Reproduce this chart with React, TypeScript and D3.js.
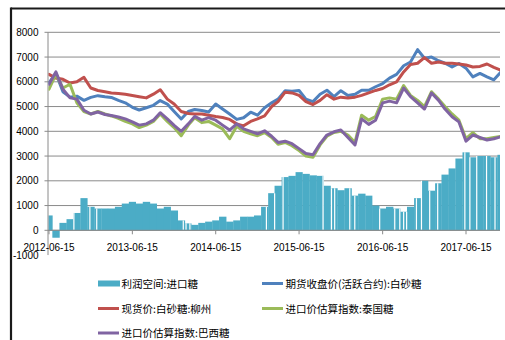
import React from 'react';
import * as d3 from 'd3';

const START = '2012-06-15';
const tickLabels = ['2012-06-15', '2013-06-15', '2014-06-15', '2015-06-15', '2016-06-15', '2017-06-15'];
const yTicks = [-1000, 0, 1000, 2000, 3000, 4000, 5000, 6000, 7000, 8000];
const gridTicks = [0, 1000, 2000, 3000, 4000, 5000, 6000, 7000, 8000];

// 利润空间:进口糖 (monthly)
const profit = [
  600, -300, 300, 450, 700, 1300, 950, 880, 880, 880,
  950, 1080, 1150, 1080, 1150, 1080, 880, 950, 800, 400,
  280, 220, 300, 350, 400, 550, 350, 400, 550, 550,
  600, 950, 1500, 1800, 2150, 2200, 2350, 2280, 2220, 2200,
  1800, 1700, 1620, 1700, 1400, 1480, 1400, 1000, 880, 950,
  880, 750, 950, 1300, 2000, 1600, 1900, 2250, 2500, 2900,
  3150, 2950, 3000, 3000, 2950, 3050,
];
// dates with no profit data (white gaps in the bars)
const gapDates = [
  '2012-10-02', '2012-12-11', '2013-01-10', '2014-01-24', '2014-02-05', '2014-02-22',
  '2015-01-23', '2015-02-28', '2015-04-06', '2015-09-28', '2015-11-04', '2015-11-18',
  '2016-01-23', '2016-02-14', '2016-06-02', '2016-08-07', '2016-08-29', '2016-09-15',
  '2016-09-28', '2016-11-10', '2016-12-02', '2017-01-07', '2017-02-11', '2017-06-10',
  '2017-07-02', '2017-08-01', '2017-09-13', '2017-10-20',
];
// 期货收盘价(活跃合约):白砂糖
const futures = [
  5950, 6350, 5600, 5380, 5420, 5250, 5370, 5440, 5400, 5370,
  5250, 5150, 4970, 4860, 4950, 5050, 5240, 5100, 4800, 4500,
  4800, 4880, 4840, 4780, 5100, 4900, 4700, 4480, 4550, 4770,
  4650, 4950, 5150, 5300, 5640, 5620, 5650, 5300, 5200, 5500,
  5660, 5400, 5640, 5450, 5500, 5660, 5660, 5800, 5930, 6150,
  6300, 6650, 6800, 7300, 6950, 7000, 6850, 6750, 6600, 6740,
  6550, 6200, 6340, 6200, 6080, 6400,
];
// 现货价:白砂糖:柳州
const spot = [
  6300, 6150, 6100, 5950, 6000, 6180, 5750, 5650, 5600, 5550,
  5530, 5500, 5450, 5400, 5350, 5500, 5680, 5300, 5100, 4800,
  4720, 4700, 4700, 4650, 4600, 4560, 4480, 4300, 4220, 4400,
  4500, 4620, 5000, 5200, 5580, 5550, 5450, 5200, 5080, 5250,
  5480, 5300, 5380, 5350, 5380, 5450, 5550, 5650, 5730, 5880,
  6000, 6400, 6700, 6750, 6980, 6750, 6800, 6750, 6750, 6720,
  6680, 6600, 6620, 6720, 6580, 6470,
];
// 进口价估算指数:泰国糖
const thai = [
  5700, 6300, 5750, 5900, 5150, 4800, 4700, 4800, 4700, 4620,
  4520, 4400, 4300, 4150, 4250, 4400, 4700, 4400, 4150, 3820,
  4250, 4550, 4350, 4400, 4250, 4100, 3700, 4200, 4000, 3900,
  3820, 3950, 3750, 3480, 3550, 3420, 3220, 3000, 2950, 3450,
  3800, 3950, 4000, 3850, 3550, 4650, 4450, 4600, 5300, 5350,
  5300, 5850, 5450, 5250, 5000, 5600, 5300, 5000, 4700, 4450,
  3700, 3950, 3700, 3700, 3750, 3800,
];
// 进口价估算指数:巴西糖
const brazil = [
  5900, 6400, 5700, 5350, 5300, 4850, 4700, 4780, 4680, 4640,
  4580, 4500, 4380, 4250, 4300, 4450, 4750, 4500, 4240, 4000,
  4300, 4600, 4450, 4550, 4450, 4250, 4050, 4300, 4100, 4000,
  3900, 4020, 3800, 3550, 3600, 3500, 3300, 3100, 3050, 3500,
  3850, 3980, 4050, 3750, 3450, 4500, 4280, 4450, 5150, 5220,
  5150, 5750, 5400, 5150, 4900, 5550, 5250, 4900, 4590, 4380,
  3600, 3850, 3750, 3650, 3700, 3780,
];

const C_BAR = '#4BACC6';
const C_BLUE = '#4F81BD';
const C_RED = '#C0504D';
const C_GREEN = '#9BBB59';
const C_PURPLE = '#8064A2';

const parse = d3.timeParse('%Y-%m-%d');
const months = d3.range(profit.length).map((i) => d3.timeMonth.offset(parse(START) as Date, i));

export default function App() {
  const W = 505;
  const H = 340;
  const left = 48;
  const right = 500;
  const x = d3.scaleTime().domain([parse('2012-06-15') as Date, parse('2017-06-15') as Date]).range([49, 466]);
  const y = d3.scaleLinear().domain([-1000, 8000]).range([255.05, 32.3]);

  const line = d3
    .line<number>()
    .x((_, i) => x(months[i]))
    .y((d) => y(d));

  const series = [
    { data: futures, color: C_BLUE },
    { data: spot, color: C_RED },
    { data: thai, color: C_GREEN },
    { data: brazil, color: C_PURPLE },
  ];

  const legend = [
    { label: '利润空间:进口糖', color: C_BAR, bar: true, col: 0, row: 0 },
    { label: '期货收盘价(活跃合约):白砂糖', color: C_BLUE, bar: false, col: 1, row: 0 },
    { label: '现货价:白砂糖:柳州', color: C_RED, bar: false, col: 0, row: 1 },
    { label: '进口价估算指数:泰国糖', color: C_GREEN, bar: false, col: 1, row: 1 },
    { label: '进口价估算指数:巴西糖', color: C_PURPLE, bar: false, col: 0, row: 2 },
  ];
  const colX = [98, 262];
  const rowY = [283.5, 308.5, 333];
  const monthIndex = d3.scaleTime().domain([months[0], months[months.length - 1]]).range([0, months.length - 1]);

  return (
    <svg
      width={W}
      height={H}
      style={{ position: 'absolute', left: 0, top: 0, background: '#fff' }}
      xmlns="http://www.w3.org/2000/svg"
    >
      <defs>
        <clipPath id="plot">
          <rect x={left + 0.5} y={20} width={right - left - 0.5} height={250} />
        </clipPath>
      </defs>
      <rect x={0} y={0} width={W} height={H} fill="#fff" />
      {/* frame */}
      <line x1={11} y1={8.5} x2={W} y2={8.5} stroke="#1a1a1a" strokeWidth={2.2} />
      <line x1={11} y1={7.4} x2={11} y2={H} stroke="#1a1a1a" strokeWidth={2.2} />

      {/* gridlines */}
      {gridTicks.map((t) => (
        <line key={t} x1={44.5} x2={right} y1={y(t)} y2={y(t)} stroke="#8a8a8a" strokeWidth={1} />
      ))}

      {/* bars */}
      <g clipPath="url(#plot)">
        {profit.map((v, i) => {
          const x0 = x(months[i]) - 3.5;
          const x1 = x(d3.timeMonth.offset(months[i], 1)) - 3.5;
          return (
            <rect
              key={i}
              x={x0}
              width={x1 - x0 + 0.3}
              y={Math.min(y(v), y(0))}
              height={Math.abs(y(v) - y(0))}
              fill={C_BAR}
            />
          );
        })}
        {gapDates.map((g) => {
          const dt = parse(g) as Date;
          const idx = Math.max(0, Math.min(profit.length - 1, Math.round(monthIndex(dt))));
          const v = profit[idx];
          return (
            <line
              key={g}
              x1={x(dt)}
              x2={x(dt)}
              y1={y(0) - 0.5}
              y2={y(v)}
              stroke="#fff"
              strokeWidth={1.2}
            />
          );
        })}
      </g>

      {/* axes */}
      <line x1={left} x2={left} y1={y(8000)} y2={y(-1000)} stroke="#8a8a8a" strokeWidth={1} />
      <line x1={left} x2={right} y1={y(0)} y2={y(0)} stroke="#8a8a8a" strokeWidth={1} />
      {tickLabels.map((t) => {
        const xx = x(parse(t) as Date);
        return (
          <g key={t}>
            <line x1={xx} x2={xx} y1={y(0)} y2={y(0) + 4} stroke="#8a8a8a" strokeWidth={1} />
            <text
              x={xx}
              y={251}
              textAnchor="middle"
              fontFamily="Liberation Sans, Arial, sans-serif"
              fontSize={10}
              fill="#000"
            >
              {t}
            </text>
          </g>
        );
      })}

      {/* y labels */}
      {yTicks.map((t) => (
        <text
          key={t}
          x={38.5}
          y={y(t) + 3.6}
          textAnchor="end"
          fontFamily="Liberation Sans, Arial, sans-serif"
          fontSize={10}
          fill="#000"
        >
          {t}
        </text>
      ))}

      {/* lines */}
      <g clipPath="url(#plot)">
        {series.map((s, i) => (
          <path
            key={i}
            d={line(s.data) || ''}
            fill="none"
            stroke={s.color}
            strokeWidth={3}
            strokeLinejoin="round"
            strokeLinecap="round"
          />
        ))}
      </g>

      {/* legend */}
      {legend.map((l) => {
        const lx = colX[l.col];
        const ly = rowY[l.row];
        return (
          <g key={l.label}>
            {l.bar ? (
              <rect x={lx} y={ly - 3} width={22} height={6} fill={l.color} />
            ) : (
              <line x1={lx} x2={lx + 21} y1={ly} y2={ly} stroke={l.color} strokeWidth={3} />
            )}
            <text
              x={lx + 23.5}
              y={ly + 4}
              fontFamily="Noto Sans CJK SC, sans-serif"
              fontSize={10.5}
              fill="#000"
            >
              {l.label}
            </text>
          </g>
        );
      })}
    </svg>
  );
}
